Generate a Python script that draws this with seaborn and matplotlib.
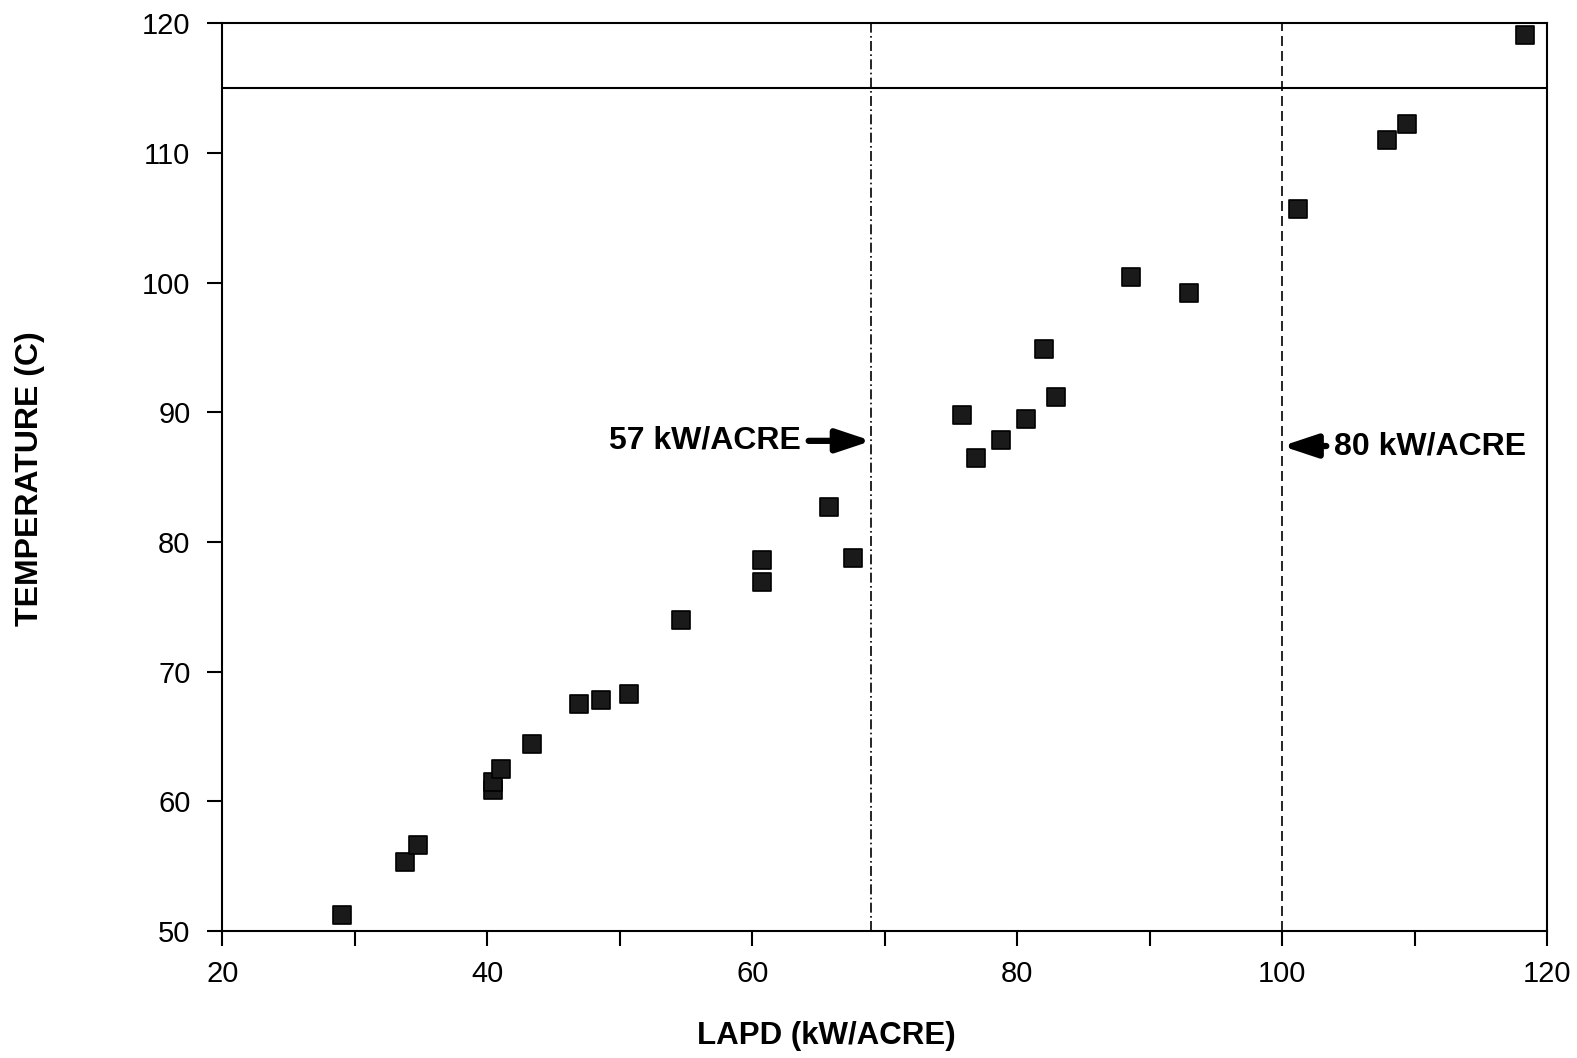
import numpy as np
import pandas as pd
import matplotlib
matplotlib.use("Agg")
import matplotlib.pyplot as plt
import seaborn as sns

# dados (LAPD em kW/acre, temperatura em C)
lapd = [29.0, 33.8, 34.8, 40.4, 40.4, 41.0, 43.4, 46.9, 48.6, 50.7,
        54.6, 60.7, 60.7, 65.8, 67.6, 75.8, 76.9, 78.8, 80.7, 82.0,
        82.9, 88.6, 93.0, 101.2, 107.9, 109.4, 118.3]
temperatura = [51.2, 55.3, 56.6, 60.85, 61.5, 62.5, 64.4, 67.5, 67.8, 68.3,
               74.0, 76.9, 78.6, 82.7, 78.8, 89.8, 86.5, 87.9, 89.5, 94.9,
               91.2, 100.4, 99.2, 105.7, 111.0, 112.2, 119.1]

limite_57 = 69      # linha traco-ponto
limite_80 = 100     # linha tracejada
linha_topo = 115    # linha horizontal

df = pd.DataFrame({'lapd': lapd, 'temp': temperatura})

sns.set_style('ticks')
plt.rcParams['font.family'] = ['Liberation Sans', 'DejaVu Sans']
plt.rcParams['text.color'] = 'black'
plt.rcParams['xtick.color'] = 'black'
plt.rcParams['ytick.color'] = 'black'

fig = plt.figure(figsize=(15.77, 10.58), dpi=100)
ax = fig.add_axes([0.141, 0.120, 0.840, 0.858])

sns.scatterplot(data=df, x='lapd', y='temp', marker='s', s=160,
                color='#1a1a1a', edgecolor='black', linewidth=1.2,
                ax=ax, zorder=3)

ax.axvline(limite_57, color='black', lw=1.2, ls=(0, (6, 2, 1, 2)))
ax.axvline(limite_80, color='black', lw=1.2, ls=(0, (6, 3)))
ax.axhline(linha_topo, color='black', lw=1.5)

ax.set_xlim(20, 120)
ax.set_ylim(50, 120)
ax.set_xticks(np.arange(20, 121, 10))
ax.set_xticklabels([str(v) if v % 20 == 0 else '' for v in range(20, 121, 10)])
ax.set_yticks(np.arange(50, 121, 10))
ax.tick_params(axis='both', labelsize=21, width=1.5, length=11, direction='out',
               labelcolor='black')
ax.tick_params(axis='x', pad=10)
ax.tick_params(axis='y', pad=12)
for s in ax.spines.values():
    s.set_linewidth(1.5)
    s.set_color('black')

ax.set_xlabel('')
ax.set_ylabel('')
fig.text(0.524, 0.021, 'LAPD (kW/ACRE)', fontsize=22.5, fontweight='bold',
         ha='center', va='center', color='black')
fig.text(0.019, 0.548, 'TEMPERATURE (C)', fontsize=23, fontweight='bold',
         ha='center', va='center', rotation=90, color='black')

# anotacoes com setas
seta = dict(arrowstyle='-|>,head_length=0.9,head_width=0.3',
            color='black', lw=4.5, shrinkA=3, shrinkB=0)
ax.annotate('57 kW/ACRE', xy=(limite_57, 87.8), xytext=(63.7, 87.8),
            fontsize=23, fontweight='bold', ha='right', va='center',
            color='black', arrowprops=seta)
ax.annotate('80 kW/ACRE', xy=(limite_80, 87.4), xytext=(103.9, 87.4),
            fontsize=23, fontweight='bold', ha='left', va='center',
            color='black', arrowprops=seta)

# titulo cortado no topo da imagem original
fig.text(0.538, 0.995, '50 m FROM REPOSITORY FLOOR', fontsize=22,
         fontweight='bold', ha='center', va='bottom', color='black')

fig.savefig('out.png', dpi=100)
